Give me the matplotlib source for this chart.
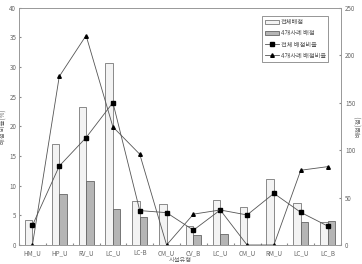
import matplotlib
matplotlib.use("Agg")
import matplotlib.pyplot as plt
import numpy as np

plt.rcParams['font.family'] = ['Noto Sans CJK KR', 'DejaVu Sans']

# dane
kategorie = ["HM_U", "HP_U", "RV_U", "LC_U", "LC-B", "CM_U", "CV_B", "LC_U", "CM_U", "RM_U", "LC_U", "LC_B"]
total_score = [26, 106, 145, 192, 46, 43, 20, 47.5, 40, 69, 44, 24.5]
case_score = [0, 54, 67.5, 38, 29, 0, 10, 11.5, 0, 0, 24.5, 25]
total_ratio = [3.3, 13.3, 18.1, 24.0, 5.8, 5.45, 2.5, 5.9, 5.06, 8.7, 5.5, 3.2]
case_ratio = [0, 28.4, 35.3, 19.9, 15.3, 0, 5.2, 5.9, 0, 0, 12.6, 13.2]

gray_txt = "#666666"
x = np.arange(len(kategorie))
w = 0.28

fig = plt.figure(figsize=(3.62, 2.64), dpi=100)
ax = fig.add_axes([0.0525, 0.072, 0.8895, 0.899])
ax2 = ax.twinx()

# slupki na prawej osi
b1 = ax2.bar(x - w / 2, total_score, width=w, color="#f3f3f3", edgecolor="#777777", linewidth=0.6, label="전체배점")
b2 = ax2.bar(x + w / 2, case_score, width=w, color="#b5b5b5", edgecolor="#666666", linewidth=0.6, label="4개사례 배점")

# linie na lewej osi (nad slupkami)
ax.set_zorder(ax2.get_zorder() + 1)
ax.patch.set_visible(False)
l1, = ax.plot(x, total_ratio, color="#555555", linewidth=0.6, marker="s", markersize=2.2,
              markerfacecolor="black", markeredgecolor="black", label="전체 배점비율")
l2, = ax.plot(x, case_ratio, color="#555555", linewidth=0.6, marker="^", markersize=2.6,
              markerfacecolor="black", markeredgecolor="black", label="4개사례 배점비율")

ax.set_xlim(-0.5, len(kategorie) - 0.5)
ax.set_ylim(0, 40)
ax2.set_ylim(0, 250)
ax.set_yticks(np.arange(0, 41, 5))
ax2.set_yticks(np.arange(0, 251, 50))

ax.set_xticks(np.arange(-0.5, len(kategorie), 1))
ax.set_xticklabels([])
ax.set_xticks(x, minor=True)
ax.set_xticklabels(kategorie, minor=True)
ax.tick_params(axis="x", which="minor", length=0, labelsize=4.5, labelcolor=gray_txt, pad=3)
ax.tick_params(axis="x", which="major", length=1.5, direction="in", color="#888888")
ax.tick_params(axis="y", labelsize=4.5, labelcolor=gray_txt, length=1.5, direction="in", color="#888888", pad=2)
ax2.tick_params(axis="y", labelsize=4.5, labelcolor=gray_txt, length=1.5, direction="in", color="#888888", pad=3)

for a in (ax, ax2):
    for s in a.spines.values():
        s.set_color("#999999")
        s.set_linewidth(0.6)

ax.set_ylabel("배점 비율(%)", fontsize=4.5, color=gray_txt, labelpad=1)
ax2.set_ylabel("배점(점)", fontsize=4.5, color=gray_txt, labelpad=0)
ax.set_xlabel("시설유형", fontsize=4.5, color=gray_txt, labelpad=-0.5)

leg = ax.legend([b1, b2, l1, l2], ["전체배점", "4개사례 배점", "전체 배점비율", "4개사례 배점비율"],
                loc="upper right", bbox_to_anchor=(0.97, 0.98), fontsize=4.5, frameon=True,
                fancybox=False, edgecolor="#666666", handlelength=2.2, borderpad=0.4,
                labelspacing=0.5, handletextpad=0.3)
leg.get_frame().set_linewidth(0.6)
for t in leg.get_texts():
    t.set_color("#555555")

fig.savefig("out.png", dpi=100)
